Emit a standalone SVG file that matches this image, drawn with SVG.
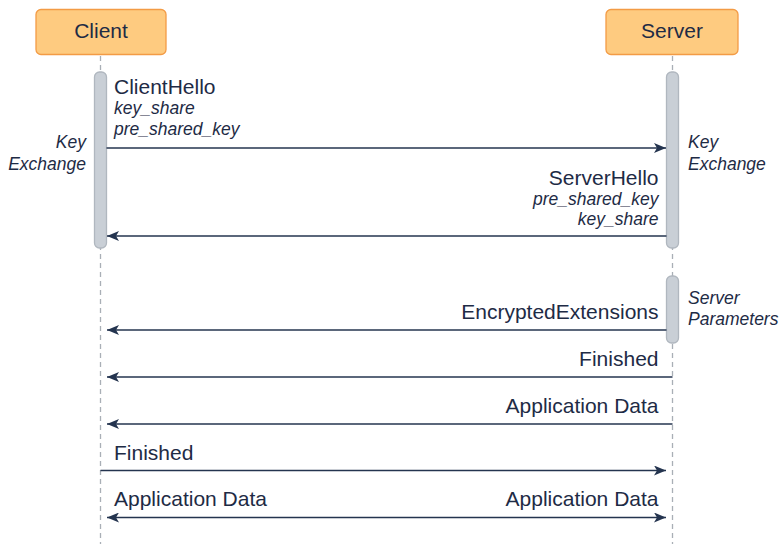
<svg xmlns="http://www.w3.org/2000/svg" width="779" height="544" viewBox="0 0 779 544">
<style>
.box{fill:#FECB80;stroke:#F39B45;stroke-width:1.3}
.life{stroke:#A9AFB6;stroke-width:1.3;stroke-dasharray:5 4;fill:none}
.act{fill:#C9CFD6;stroke:#B0B7BF;stroke-width:1.3}
.t{font-family:"Liberation Sans",Arial,sans-serif;font-size:21px;fill:#1E2B45}
.i{font-family:"Liberation Sans",Arial,sans-serif;font-size:17.5px;font-style:italic;fill:#1E2B45}
.msg{stroke:#24344F;stroke-width:1.5;fill:none}
.e{text-anchor:end}
.m{text-anchor:middle}
</style>
<defs>
<marker id="ah" viewBox="0 0 12 10" refX="12" refY="5" markerWidth="12" markerHeight="10" markerUnits="userSpaceOnUse" orient="auto-start-reverse">
<path d="M0,0 L12,5 L0,10 L3,5 Z" fill="#24344F"/>
</marker>
</defs>
<g id="client">
<line class="life" x1="100.5" y1="56" x2="100.5" y2="544"/>
<rect class="box" x="36" y="9.5" width="130" height="45" rx="5"/>
<text class="t m" x="101" y="37.5">Client</text>
<rect class="act" x="94.5" y="72" width="12" height="176" rx="5"/>
<text class="i e" x="86" y="148">Key</text>
<text class="i e" x="86" y="169.5">Exchange</text>
</g>
<g id="server">
<line class="life" x1="672.5" y1="56" x2="672.5" y2="544"/>
<rect class="box" x="606" y="9.5" width="132" height="45" rx="5"/>
<text class="t m" x="672" y="37.5">Server</text>
<rect class="act" x="666.5" y="72" width="12" height="176" rx="5"/>
<text class="i" x="688" y="148">Key</text>
<text class="i" x="688" y="169.5">Exchange</text>
<rect class="act" x="666.5" y="276" width="12" height="67" rx="5"/>
<text class="i" x="688" y="304">Server</text>
<text class="i" x="688" y="325">Parameters</text>
</g>
<g id="connectors">
<path class="msg" d="M106.5,148 L666,148" marker-end="url(#ah)"/>
<path class="msg" d="M666.5,236 L107,236" marker-end="url(#ah)"/>
<path class="msg" d="M666.5,330 L107,330" marker-end="url(#ah)"/>
<path class="msg" d="M672.5,377 L107,377" marker-end="url(#ah)"/>
<path class="msg" d="M672.5,424 L107,424" marker-end="url(#ah)"/>
<path class="msg" d="M100.5,470.5 L666,470.5" marker-end="url(#ah)"/>
<path class="msg" d="M107,517.5 L666,517.5" marker-start="url(#ah)" marker-end="url(#ah)"/>
</g>
<g id="labels">
<text class="t" x="114" y="94">ClientHello</text>
<text class="i" x="114" y="114">key_share</text>
<text class="i" x="114" y="135">pre_shared_key</text>
<text class="t e" x="658.5" y="185">ServerHello</text>
<text class="i e" x="658.5" y="205">pre_shared_key</text>
<text class="i e" x="658.5" y="225">key_share</text>
<text class="t e" x="658.5" y="319">EncryptedExtensions</text>
<text class="t e" x="658.5" y="366">Finished</text>
<text class="t e" x="658.5" y="413">Application Data</text>
<text class="t" x="114" y="459.5">Finished</text>
<text class="t" x="114" y="506">Application Data</text>
<text class="t e" x="658.5" y="506">Application Data</text>
</g>
</svg>
